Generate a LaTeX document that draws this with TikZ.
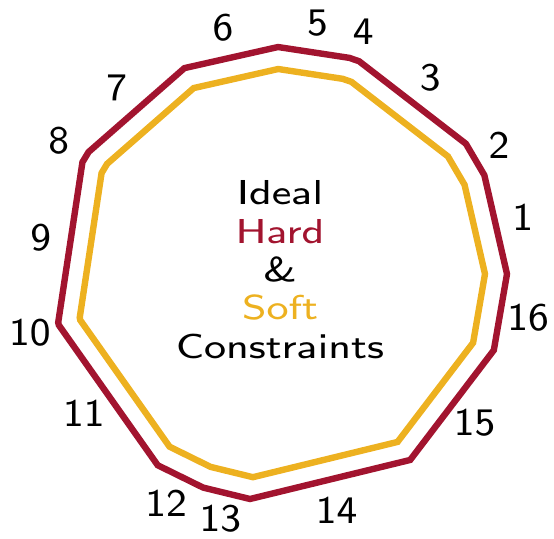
\documentclass[tikz,border=0pt]{standalone}
\usepackage{tikz}
\definecolor{HardRed}{HTML}{A2142F}
\definecolor{SoftYellow}{HTML}{EDB120}
\font\lblfont=cmss8 at 19.5pt
\font\ctrfont=cmss8 at 17.3pt

\begin{document}
\begin{tikzpicture}[x=0.5pt, y=0.5pt,
        hard/.style={draw=HardRed, line width=3.2pt},
        soft/.style={draw=SoftYellow, line width=3.2pt},
        lbl/.style={inner sep=0pt, font=\lblfont},
        centre/.style={align=center, inner sep=0pt, xscale=1.2, transform shape,
                       font=\fontsize{17.3}{19.2}\selectfont\ctrfont}]
        \useasboundingbox (-280,-264) rectangle (274,274);
        % edges of the sixteen sectors
        \foreach \a [count=\i] in {0,25.8,35,69.6,72.2,90.5,114.9,147.5,150.5,192.3,193,237.4,250.2,262.4,305,340.4} {
            \coordinate (h\i) at (\a:227);
            \coordinate (s\i) at (\a:205);
        }
        \draw[hard] (h1) \foreach \i in {2,...,16} { -- (h\i) } -- cycle;
        \draw[soft] (s1) \foreach \i in {2,...,16} { -- (s\i) } -- cycle;
        % sector numbers
        \foreach \a/\r [count=\i] in {13/249,30.4/254,52.5/247,71/256,81.5/254,103/253,131.2/248,149/258,
                                      171.4/242,193.2/257,215.5/241,243.6/256,256.3/252,283.5/243,322.6/245,350/252} {
            \node[lbl] (l\i) at (\a:\r) {\i};
        }
        \node[centre] (ctr) at (0,4.5) {Ideal\\\textcolor{HardRed}{Hard}\\\&\\\textcolor{SoftYellow}{Soft}\\Constraints};
    \end{tikzpicture}
\end{document}
